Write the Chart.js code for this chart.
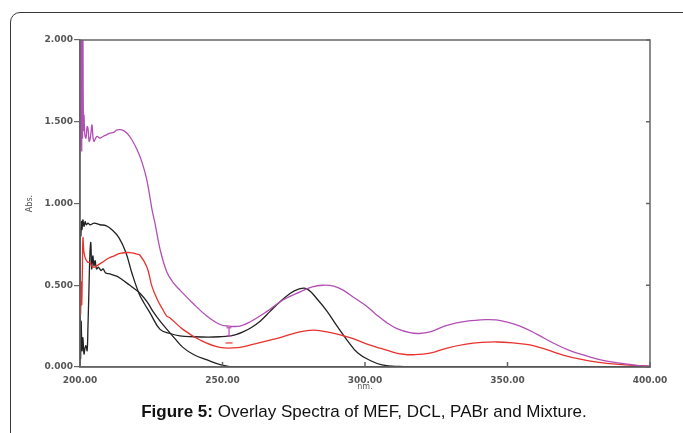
<!DOCTYPE html>
<html>
<head>
<meta charset="utf-8">
<script src="https://cdn.jsdelivr.net/npm/chart.js@4/dist/chart.umd.min.js"></script>
<style>
  html, body { margin: 0; padding: 0; background: #fff; overflow: hidden; }
  #wrap { position: relative; width: 683px; height: 433px; }
  #frame {
    position: absolute; left: 10px; top: 12px; width: 700px; height: 440px;
    border: 1.5px solid #3a3a3a; border-radius: 10px; box-sizing: border-box;
  }
  canvas { position: absolute; left: 0; top: 0; }
  #caption {
    position: absolute; left: 0; top: 403px; width: 728px; text-align: center;
    font-family: "Liberation Sans", Arial, sans-serif; font-size: 17px; line-height: 17px; color: #111;
  }
</style>
</head>
<body>
<div id="wrap">
  <div id="frame"></div>
  <canvas id="chart" width="683" height="433"></canvas>
  <div id="caption"><b>Figure 5:</b> Overlay Spectra of MEF, DCL, PABr and Mixture.</div>
</div>
<script>
// wavelengths (nm) and absorbances
const mixtureNm = [200.0, 200.15, 200.3, 200.45, 200.6, 200.75, 200.9, 201.05, 201.2, 201.4, 201.7, 202.1, 202.5, 202.8, 203.2, 203.5, 203.9, 204.2, 204.6, 204.9, 205.5, 206.0, 207.0, 208.1, 209.3, 210.5, 211.8, 213.0, 214.7, 216.5, 218.2, 220.0, 221.8, 223.5, 225.3, 226.3, 228.1, 230.5, 233.0, 235.1, 239.6, 244.6, 249.1, 252.3, 256.1, 259.6, 265.6, 271.2, 277.2, 281.5, 285.3, 289.0, 292.3, 296.5, 300.7, 304.0, 307.7, 311.2, 315.8, 319.0, 322.8, 328.8, 335.8, 342.8, 346.0, 349.1, 354.4, 360.4, 366.0, 371.9, 377.9, 383.5, 389.5, 394.7, 400.0];
const mixtureAbs = [1.30, 2.00, 1.35, 2.00, 1.32, 2.00, 1.40, 2.00, 1.45, 1.54, 1.42, 1.40, 1.47, 1.46, 1.38, 1.39, 1.44, 1.48, 1.40, 1.38, 1.40, 1.41, 1.40, 1.41, 1.42, 1.43, 1.435, 1.45, 1.45, 1.43, 1.39, 1.33, 1.25, 1.14, 0.96, 0.88, 0.72, 0.58, 0.51, 0.47, 0.39, 0.31, 0.26, 0.25, 0.25, 0.275, 0.34, 0.41, 0.46, 0.49, 0.50, 0.495, 0.47, 0.42, 0.37, 0.32, 0.27, 0.235, 0.21, 0.205, 0.215, 0.255, 0.28, 0.29, 0.288, 0.278, 0.25, 0.20, 0.147, 0.10, 0.067, 0.04, 0.024, 0.012, 0.005];

const mefNm = [200.0, 200.2, 200.4, 200.6, 200.8, 201.05, 201.4, 202.0, 202.8, 203.5, 204.0, 204.9, 206.0, 207.8, 210.0, 212.0, 214.0, 217.5, 220.0, 221.0, 223.5, 225.3, 227.2, 229.1, 230.5, 231.6, 236.1, 242.1, 249.1, 256.1, 261.0, 266.7, 270.2, 276.0, 281.8, 288.0, 294.7, 300.0, 305.3, 310.0, 313.5, 316.8, 322.8, 328.8, 335.0, 341.0, 346.3, 352.0, 357.9, 364.0, 369.5, 375.5, 381.4, 389.0, 396.5, 400.0];
const mefAbs = [0.45, 0.32, 0.52, 0.38, 0.55, 0.79, 0.70, 0.66, 0.64, 0.64, 0.62, 0.61, 0.62, 0.64, 0.665, 0.68, 0.695, 0.70, 0.69, 0.685, 0.61, 0.49, 0.41, 0.35, 0.31, 0.30, 0.23, 0.165, 0.12, 0.12, 0.14, 0.165, 0.18, 0.21, 0.226, 0.21, 0.18, 0.145, 0.115, 0.09, 0.078, 0.075, 0.085, 0.116, 0.138, 0.15, 0.153, 0.147, 0.135, 0.105, 0.073, 0.048, 0.03, 0.016, 0.008, 0.005];

const dclNm = [200.0, 200.1, 200.3, 200.5, 200.7, 201.0, 201.4, 201.8, 202.2, 202.8, 203.5, 205.0, 207.0, 209.1, 211.2, 213.7, 216.1, 218.2, 220.7, 222.5, 224.6, 228.1, 231.6, 235.0, 240.0, 245.0, 249.0, 252.6, 255.0, 257.2, 260.0, 263.2, 266.7, 269.6, 273.7, 276.5, 279.6, 283.5, 286.7, 290.2, 293.7, 297.5, 301.8, 306.0, 312.0, 320.0, 400.0];
const dclAbs = [0.0, 0.85, 0.80, 0.89, 0.84, 0.90, 0.86, 0.89, 0.87, 0.88, 0.87, 0.88, 0.87, 0.865, 0.84, 0.79, 0.70, 0.575, 0.45, 0.39, 0.33, 0.23, 0.205, 0.19, 0.185, 0.183, 0.185, 0.19, 0.20, 0.215, 0.24, 0.28, 0.34, 0.39, 0.45, 0.475, 0.478, 0.41, 0.34, 0.25, 0.165, 0.085, 0.04, 0.013, 0.003, 0.0, 0.0];

const pabrNm = [200.0, 200.2, 200.4, 200.7, 201.0, 201.4, 201.8, 202.1, 202.5, 202.8, 203.1, 203.5, 203.8, 204.1, 204.5, 204.9, 205.3, 205.8, 206.5, 207.4, 208.1, 209.0, 210.5, 212.0, 213.5, 215.1, 217.5, 219.0, 221.1, 223.5, 225.6, 228.1, 230.5, 233.0, 236.1, 240.0, 244.6, 249.8, 255.0, 400.0];
const pabrAbs = [0.35, 0.05, 0.28, 0.10, 0.18, 0.08, 0.12, 0.13, 0.10, 0.25, 0.45, 0.70, 0.76, 0.60, 0.68, 0.62, 0.65, 0.60, 0.61, 0.59, 0.60, 0.575, 0.57, 0.56, 0.55, 0.53, 0.50, 0.48, 0.45, 0.40, 0.34, 0.28, 0.23, 0.18, 0.12, 0.075, 0.043, 0.012, 0.0, 0.0];

// small instrument markers near 252 nm
const markerNm = [252.3, 252.3];
const markerArrowAbs = [0.19, 0.24];
const markerDashAbs = [0.147];

const xTickLabels = ['200.00', '250.00', '300.00', '350.00', '400.00'];
const yTickLabels = ['0.000', '0.500', '1.000', '1.500', '2.000'];

const toPoints = (xs, ys) => ys.map((v, i) => ({ x: xs[i], y: v }));

const axisColor = '#666';
const tickFont = { family: 'DejaVu Sans', size: 9, weight: 'bold' };

const plotFrame = {
  id: 'plotFrame',
  afterDatasetsDraw(chart) {
    const { ctx, chartArea: a, scales: { x, y } } = chart;
    ctx.save();
    ctx.strokeStyle = axisColor;
    ctx.lineWidth = 1.5;
    ctx.strokeRect(a.left, a.top, a.right - a.left, a.bottom - a.top);
    ctx.beginPath();
    x.ticks.forEach(t => {
      const px = x.getPixelForValue(t.value);
      ctx.moveTo(px, a.bottom);
      ctx.lineTo(px, a.bottom - 5);
    });
    y.ticks.forEach(t => {
      const py = y.getPixelForValue(t.value);
      ctx.moveTo(a.right, py);
      ctx.lineTo(a.right - 4, py);
    });
    ctx.stroke();
    ctx.restore();
  }
};

const line = (data, color) => ({
  data, borderColor: color, borderWidth: 1.3, pointRadius: 0,
  tension: 0.4, fill: false
});

new Chart(document.getElementById('chart'), {
  type: 'line',
  data: {
    datasets: [
      {
        data: toPoints(markerNm, markerArrowAbs), borderColor: '#b24fb5', backgroundColor: '#b24fb5',
        borderWidth: 1.2, pointStyle: 'line', pointRadius: 2.5, pointBorderWidth: 1.2
      },
      {
        data: toPoints(markerNm, markerDashAbs), showLine: false, borderColor: '#e8322e',
        pointStyle: 'line', pointRadius: 3.5, pointBorderWidth: 1.2
      },
      line(toPoints(mixtureNm, mixtureAbs), '#b24fb5'),
      line(toPoints(mefNm, mefAbs), '#e8322e'),
      line(toPoints(dclNm, dclAbs), '#222222'),
      line(toPoints(pabrNm, pabrAbs), '#222222')
    ]
  },
  options: {
    responsive: false,
    animation: false,
    devicePixelRatio: 1,
    layout: { padding: { top: 40, right: 33, left: 0, bottom: 0 } },
    plugins: { legend: { display: false }, tooltip: { enabled: false } },
    scales: {
      x: {
        type: 'linear', min: 200, max: 400,
        afterFit: s => { s.height = 66; },
        grid: { display: false, drawTicks: false },
        border: { display: true, color: axisColor, width: 1.5 },
        ticks: {
          stepSize: 50, padding: 8, color: '#555', font: tickFont, maxRotation: 0,
          callback: (v, i) => xTickLabels[i]
        },
        title: {
          display: true, text: 'nm.', color: '#555',
          font: { family: 'DejaVu Sans', size: 8 }, padding: { top: 0, bottom: 41 }
        }
      },
      y: {
        min: 0, max: 2,
        afterFit: s => { s.width = 80; },
        grid: { drawOnChartArea: false, drawTicks: true, tickLength: 6, color: axisColor, lineWidth: 1.2 },
        border: { display: true, color: axisColor, width: 1.5 },
        ticks: {
          stepSize: 0.5, padding: 1, color: '#555', font: tickFont,
          callback: (v, i) => yTickLabels[i]
        },
        title: {
          display: true, text: 'Abs.', color: '#555',
          font: { family: 'DejaVu Sans', size: 8 }, padding: { top: 25, bottom: 0 }
        }
      }
    }
  },
  plugins: [plotFrame]
});
</script>
</body>
</html>
